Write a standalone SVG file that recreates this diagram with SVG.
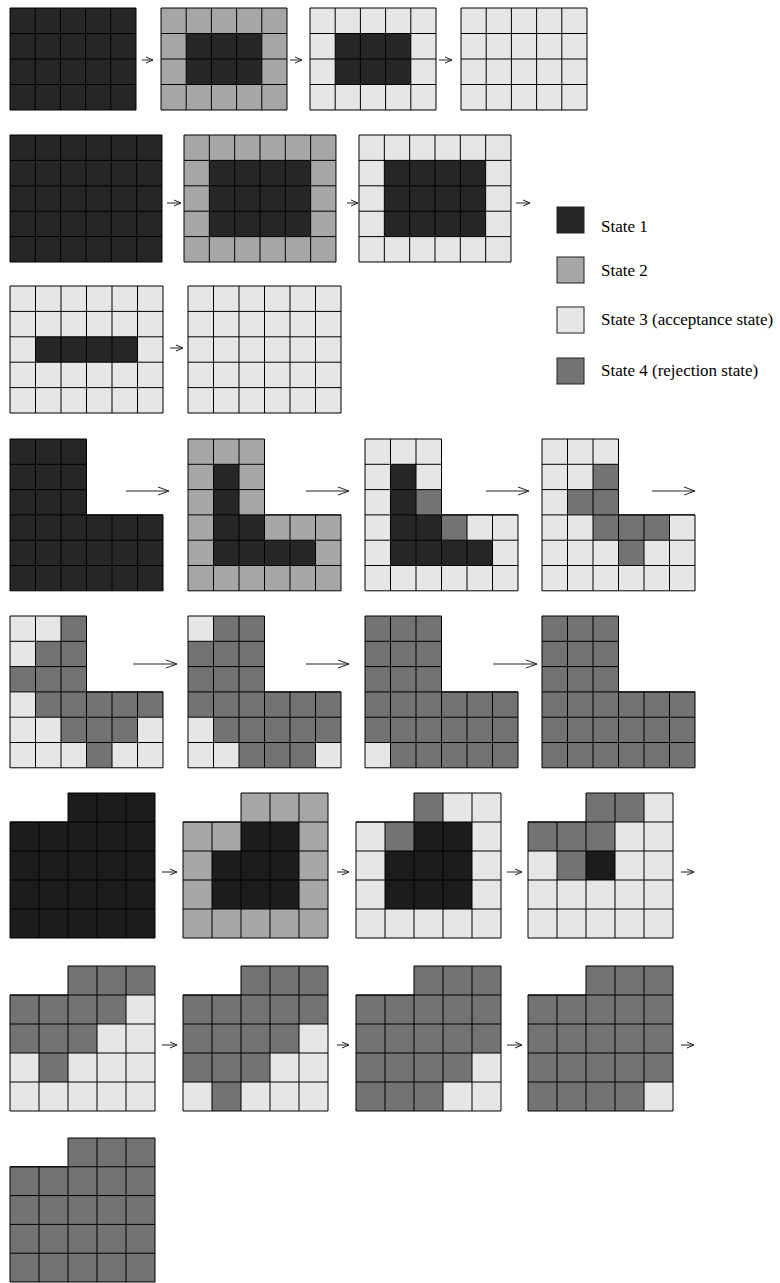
<svg xmlns="http://www.w3.org/2000/svg" xmlns:xlink="http://www.w3.org/1999/xlink" width="780" height="1283" viewBox="0 0 780 1283">
<style>
.s1{fill:#262626}.s1b{fill:#1c1c1c}.s2{fill:#a6a6a6}.s3{fill:#e6e6e6}.s4{fill:#737373}
.gl{fill:none;stroke:#000;stroke-width:1;vector-effect:non-scaling-stroke}
.arr path{fill:none;stroke:#222;stroke-width:1}
.lg rect{stroke:#222;stroke-width:1}
.lg text{font-family:"Liberation Serif","Times New Roman",serif;font-size:17px;fill:#000}
</style>
<defs>
<path id="R54" class="gl" d="M0,0H5V4H0Z M1,0V4M2,0V4M3,0V4M4,0V4 M0,1H5M0,2H5M0,3H5"/>
<path id="R65" class="gl" d="M0,0H6V5H0Z M1,0V5M2,0V5M3,0V5M4,0V5M5,0V5 M0,1H6M0,2H6M0,3H6M0,4H6"/>
<path id="GL" class="gl" d="M0,0H3V3H6V6H0Z M1,0V6M2,0V6M3,3V6M4,3V6M5,3V6 M0,1H3M0,2H3M0,3H6M0,4H6M0,5H6"/>
<path id="GP" class="gl" d="M2,0H5V5H0V1H2Z M1,1V5M2,1V5M3,0V5M4,0V5 M0,1H5M0,2H5M0,3H5M0,4H5"/>
</defs>

<!-- Row 1 -->
<g id="r1g1" transform="translate(10,8) scale(25.2,25.5)"><rect class="s1" width="5" height="4"/><use xlink:href="#R54"/></g>
<g id="r1g2" transform="translate(161,8) scale(25.2,25.5)"><rect class="s2" width="5" height="4"/><rect class="s1" x="1" y="1" width="3" height="2"/><use xlink:href="#R54"/></g>
<g id="r1g3" transform="translate(310,8) scale(25.2,25.5)"><rect class="s3" width="5" height="4"/><rect class="s1" x="1" y="1" width="3" height="2"/><use xlink:href="#R54"/></g>
<g id="r1g4" transform="translate(461,8) scale(25.2,25.5)"><rect class="s3" width="5" height="4"/><use xlink:href="#R54"/></g>

<!-- Row 2 -->
<g id="r2g1" transform="translate(10,135) scale(25.33,25.4)"><rect class="s1" width="6" height="5"/><use xlink:href="#R65"/></g>
<g id="r2g2" transform="translate(184,135) scale(25.33,25.4)"><rect class="s2" width="6" height="5"/><rect class="s1" x="1" y="1" width="4" height="3"/><use xlink:href="#R65"/></g>
<g id="r2g3" transform="translate(359,135) scale(25.33,25.4)"><rect class="s3" width="6" height="5"/><rect class="s1" x="1" y="1" width="4" height="3"/><use xlink:href="#R65"/></g>

<!-- Row 3 -->
<g id="r3g1" transform="translate(10,286) scale(25.5,25.4)"><rect class="s3" width="6" height="5"/><rect class="s1" x="1" y="2" width="4" height="1"/><use xlink:href="#R65"/></g>
<g id="r3g2" transform="translate(188,286) scale(25.5,25.4)"><rect class="s3" width="6" height="5"/><use xlink:href="#R65"/></g>

<!-- L row A -->
<g id="lAg1" transform="translate(10,439) scale(25.5,25.3)"><polygon class="s1" points="0,0 3,0 3,3 6,3 6,6 0,6"/><use xlink:href="#GL"/></g>
<g id="lAg2" transform="translate(188,439) scale(25.5,25.3)"><polygon class="s2" points="0,0 3,0 3,3 6,3 6,6 0,6"/>
<rect class="s1" x="1" y="1" width="1" height="4"/><rect class="s1" x="2" y="3" width="1" height="2"/><rect class="s1" x="3" y="4" width="2" height="1"/><use xlink:href="#GL"/></g>
<g id="lAg3" transform="translate(365,439) scale(25.5,25.3)"><polygon class="s3" points="0,0 3,0 3,3 6,3 6,6 0,6"/>
<rect class="s1" x="1" y="1" width="1" height="4"/><rect class="s1" x="2" y="3" width="1" height="2"/><rect class="s1" x="3" y="4" width="2" height="1"/>
<rect class="s4" x="2" y="2" width="1" height="1"/><rect class="s4" x="3" y="3" width="1" height="1"/><use xlink:href="#GL"/></g>
<g id="lAg4" transform="translate(542,439) scale(25.5,25.3)"><polygon class="s3" points="0,0 3,0 3,3 6,3 6,6 0,6"/>
<rect class="s4" x="2" y="1" width="1" height="3"/><rect class="s4" x="1" y="2" width="1" height="1"/><rect class="s4" x="3" y="3" width="2" height="1"/><rect class="s4" x="3" y="4" width="1" height="1"/><use xlink:href="#GL"/></g>

<!-- L row B -->
<g id="lBg1" transform="translate(10,616) scale(25.5,25.3)"><polygon class="s4" points="0,0 3,0 3,3 6,3 6,6 0,6"/>
<rect class="s3" x="0" y="0" width="2" height="1"/><rect class="s3" x="0" y="1" width="1" height="1"/><rect class="s3" x="0" y="3" width="1" height="3"/><rect class="s3" x="1" y="4" width="1" height="2"/><rect class="s3" x="2" y="5" width="1" height="1"/><rect class="s3" x="5" y="4" width="1" height="2"/><rect class="s3" x="4" y="5" width="1" height="1"/><use xlink:href="#GL"/></g>
<g id="lBg2" transform="translate(188,616) scale(25.5,25.3)"><polygon class="s4" points="0,0 3,0 3,3 6,3 6,6 0,6"/>
<rect class="s3" x="0" y="0" width="1" height="1"/><rect class="s3" x="0" y="4" width="1" height="2"/><rect class="s3" x="1" y="5" width="1" height="1"/><rect class="s3" x="5" y="5" width="1" height="1"/><use xlink:href="#GL"/></g>
<g id="lBg3" transform="translate(365,616) scale(25.5,25.3)"><polygon class="s4" points="0,0 3,0 3,3 6,3 6,6 0,6"/>
<rect class="s3" x="0" y="5" width="1" height="1"/><use xlink:href="#GL"/></g>
<g id="lBg4" transform="translate(542,616) scale(25.5,25.3)"><polygon class="s4" points="0,0 3,0 3,3 6,3 6,6 0,6"/><use xlink:href="#GL"/></g>

<!-- Row C -->
<g id="pCg1" transform="translate(10,793) scale(29,29)"><polygon class="s1b" points="2,0 5,0 5,5 0,5 0,1 2,1"/><use xlink:href="#GP"/></g>
<g id="pCg2" transform="translate(183,793) scale(29,29)"><polygon class="s2" points="2,0 5,0 5,5 0,5 0,1 2,1"/>
<rect class="s1b" x="2" y="1" width="2" height="1"/><rect class="s1b" x="1" y="2" width="3" height="2"/><use xlink:href="#GP"/></g>
<g id="pCg3" transform="translate(356,793) scale(29,29)"><polygon class="s3" points="2,0 5,0 5,5 0,5 0,1 2,1"/>
<rect class="s4" x="2" y="0" width="1" height="1"/><rect class="s4" x="1" y="1" width="1" height="1"/>
<rect class="s1b" x="2" y="1" width="2" height="1"/><rect class="s1b" x="1" y="2" width="3" height="2"/><use xlink:href="#GP"/></g>
<g id="pCg4" transform="translate(528,793) scale(29,29)"><polygon class="s3" points="2,0 5,0 5,5 0,5 0,1 2,1"/>
<rect class="s4" x="2" y="0" width="2" height="1"/><rect class="s4" x="0" y="1" width="3" height="1"/><rect class="s4" x="1" y="2" width="1" height="1"/>
<rect class="s1b" x="2" y="2" width="1" height="1"/><use xlink:href="#GP"/></g>

<!-- Row D -->
<g id="pDg1" transform="translate(10,966) scale(29,29)"><polygon class="s3" points="2,0 5,0 5,5 0,5 0,1 2,1"/>
<rect class="s4" x="2" y="0" width="3" height="1"/><rect class="s4" x="0" y="1" width="4" height="1"/><rect class="s4" x="0" y="2" width="3" height="1"/><rect class="s4" x="1" y="3" width="1" height="1"/><use xlink:href="#GP"/></g>
<g id="pDg2" transform="translate(183,966) scale(29,29)"><polygon class="s4" points="2,0 5,0 5,5 0,5 0,1 2,1"/>
<rect class="s3" x="4" y="2" width="1" height="3"/><rect class="s3" x="3" y="3" width="1" height="2"/><rect class="s3" x="0" y="4" width="1" height="1"/><rect class="s3" x="2" y="4" width="1" height="1"/><use xlink:href="#GP"/></g>
<g id="pDg3" transform="translate(356,966) scale(29,29)"><polygon class="s4" points="2,0 5,0 5,5 0,5 0,1 2,1"/>
<rect class="s3" x="4" y="3" width="1" height="2"/><rect class="s3" x="3" y="4" width="1" height="1"/><use xlink:href="#GP"/></g>
<g id="pDg4" transform="translate(528,966) scale(29,29)"><polygon class="s4" points="2,0 5,0 5,5 0,5 0,1 2,1"/>
<rect class="s3" x="4" y="4" width="1" height="1"/><use xlink:href="#GP"/></g>

<!-- Row E -->
<g id="pEg1" transform="translate(10,1138) scale(29,28.8)"><polygon class="s4" points="2,0 5,0 5,5 0,5 0,1 2,1"/><use xlink:href="#GP"/></g>

<!-- Legend -->
<g id="legend" class="lg">
<rect class="s1" x="557" y="207" width="27" height="26"/><text x="601" y="232">State 1</text>
<rect class="s2" x="557" y="257" width="27" height="26"/><text x="601" y="276">State 2</text>
<rect class="s3" x="557" y="307" width="27" height="26"/><text x="601" y="325">State 3 (acceptance state)</text>
<rect class="s4" x="557" y="358" width="27" height="26"/><text x="601" y="376">State 4 (rejection state)</text>
</g>

<!-- Connectors -->
<g id="connectors" class="arr">
<path d="M142,60H153M146,57L153,60L146,63"/>
<path d="M290,60H302M295,57L302,60L295,63"/>
<path d="M439,60H452M445,57L452,60L445,63"/>
<path d="M167,203H181M174,200L181,203L174,206"/>
<path d="M347,203H358M351,200L358,203L351,206"/>
<path d="M516,203H530M523,200L530,203L523,206"/>
<path d="M170,348H183M176,345L183,348L176,351"/>
<path d="M126,491H169M158,487L169,491L158,495"/>
<path d="M306,491H349M338,487L349,491L338,495"/>
<path d="M486,491H529M518,487L529,491L518,495"/>
<path d="M652,491H695M684,487L695,491L684,495"/>
<path d="M133,664H177M166,660L177,664L166,668"/>
<path d="M306,664H349M338,660L349,664L338,668"/>
<path d="M493,664H537M526,660L537,664L526,668"/>
<path d="M162,872H177M170,869L177,872L170,875"/>
<path d="M337,872H349M342,869L349,872L342,875"/>
<path d="M507,872H522M515,869L522,872L515,875"/>
<path d="M681,872H694M687,869L694,872L687,875"/>
<path d="M162,1045H177M170,1042L177,1045L170,1048"/>
<path d="M337,1045H349M342,1042L349,1045L342,1048"/>
<path d="M507,1045H522M515,1042L522,1045L515,1048"/>
<path d="M681,1045H694M687,1042L694,1045L687,1048"/>
</g>
</svg>
